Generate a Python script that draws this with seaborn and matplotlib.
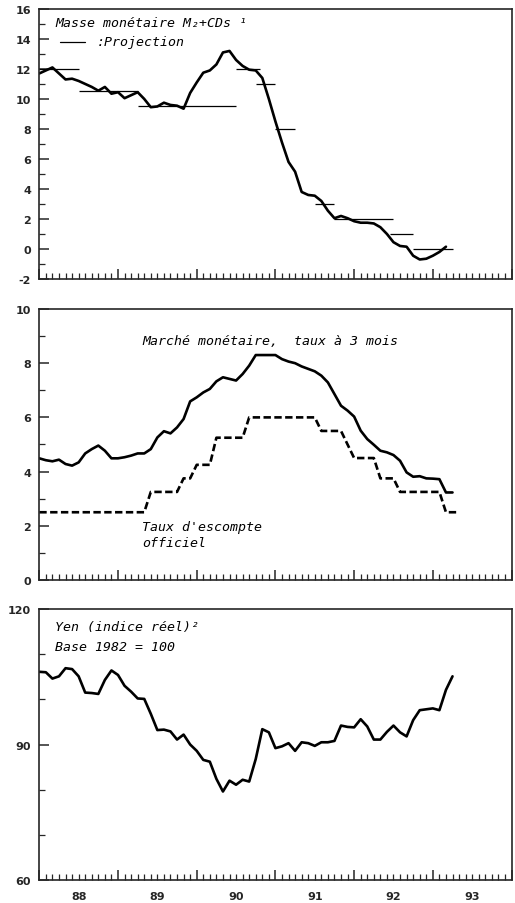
import numpy as np
import pandas as pd
import seaborn as sns
import matplotlib
matplotlib.use("Agg")
import matplotlib.pyplot as plt
from matplotlib.ticker import MultipleLocator

# Masse monétaire M2+CDs, mensuel depuis janvier 1988
m2_cds = [11.7, 11.9, 12.1, 11.7, 11.3, 11.35, 11.2, 11.0, 10.8, 10.55,
          10.8, 10.35, 10.45, 10.05, 10.25, 10.45, 10.0, 9.45, 9.5, 9.75,
          9.6, 9.55, 9.35, 10.4, 11.1, 11.75, 11.9, 12.3, 13.1, 13.2,
          12.6, 12.2, 11.95, 11.9, 11.4, 10.0, 8.5, 7.1, 5.8, 5.15,
          3.8, 3.6, 3.55, 3.2, 2.55, 2.05, 2.2, 2.05, 1.85, 1.75,
          1.75, 1.7, 1.45, 1.0, 0.45, 0.2, 0.15, -0.45, -0.7, -0.65,
          -0.45, -0.2, 0.15]

# Projections (segments horizontaux)
proj_start = [1988.0, 1988.5, 1989.25, 1990.5, 1990.75, 1991.0, 1991.5, 1991.75, 1992.45, 1992.75]
proj_end = [1988.5, 1989.25, 1990.5, 1990.8, 1991.0, 1991.25, 1991.75, 1992.5, 1992.75, 1993.25]
proj_value = [12, 10.5, 9.5, 12, 11, 8, 3, 2, 1, 0]

# Marché monétaire, taux à 3 mois
call_rate = [4.49, 4.42, 4.38, 4.44, 4.28, 4.22, 4.34, 4.67, 4.83, 4.96,
             4.77, 4.49, 4.49, 4.53, 4.59, 4.67, 4.67, 4.83, 5.26, 5.49,
             5.41, 5.63, 5.94, 6.59, 6.74, 6.92, 7.05, 7.33, 7.48, 7.42,
             7.36, 7.60, 7.91, 8.30, 8.30, 8.30, 8.30, 8.15, 8.06, 8.00,
             7.88, 7.79, 7.70, 7.54, 7.29, 6.86, 6.43, 6.25, 6.03, 5.51,
             5.20, 4.99, 4.77, 4.71, 4.61, 4.40, 3.97, 3.81, 3.83, 3.75,
             3.74, 3.72, 3.23, 3.23]

# Taux d'escompte officiel
discount = ([2.5] * 17 + [3.25] * 5 + [3.75] * 2 + [4.25] * 3 + [5.25] * 5
            + [6.0] * 11 + [5.5] * 4 + [5.0] + [4.5] * 4 + [3.75] * 3
            + [3.25] * 7 + [2.5] * 3)

# Yen (indice réel), base 1982 = 100
yen = [106.1, 106.0, 104.6, 105.1, 106.9, 106.7, 105.1, 101.5, 101.4, 101.2,
       104.3, 106.4, 105.4, 103.0, 101.7, 100.2, 100.1, 96.8, 93.2, 93.3,
       92.9, 91.1, 92.2, 90.0, 88.6, 86.6, 86.2, 82.4, 79.6, 82.0,
       81.1, 82.2, 81.8, 86.8, 93.4, 92.7, 89.2, 89.6, 90.3, 88.6,
       90.5, 90.3, 89.7, 90.5, 90.5, 90.8, 94.2, 93.9, 93.8, 95.6,
       94.0, 91.1, 91.1, 92.8, 94.2, 92.7, 91.8, 95.4, 97.6, 97.8,
       98.0, 97.6, 102.1, 105.1]

years = [1988, 1989, 1990, 1991, 1992, 1993, 1994]
year_labels = ["88", "89", "90", "91", "92", "93"]


def monthly(values):
    return pd.DataFrame({"date": 1988 + np.arange(len(values)) / 12.0, "value": values})


sns.set_style("ticks")
plt.rcParams["font.family"] = ["DejaVu Sans"]
plt.rcParams["axes.unicode_minus"] = False

fig = plt.figure(figsize=(5.15, 9.04), dpi=100)
left, width = 0.0763, 0.917
ax1 = fig.add_axes([left, 0.6903, width, 0.2987])
ax2 = fig.add_axes([left, 0.3573, width, 0.2998])
ax3 = fig.add_axes([left, 0.0254, width, 0.2998])

txt = dict(family=["DejaVu Sans Mono", "DejaVu Sans"], style="italic", fontsize=9.5, color="black")
lw = 1.9

# 1. Masse monétaire
sns.lineplot(data=monthly(m2_cds), x="date", y="value", ax=ax1, color="black", linewidth=lw)
ax1.hlines(proj_value, proj_start, proj_end, color="black", linewidth=0.9)
ax1.set_ylim(-2, 16)
ax1.yaxis.set_major_locator(MultipleLocator(2))
ax1.yaxis.set_minor_locator(MultipleLocator(1))
ax1.text(0.033, 0.948, "Masse monétaire M₂+CDs ¹", transform=ax1.transAxes, va="center", **txt)
ax1.plot([0.044, 0.097], [0.879, 0.879], transform=ax1.transAxes, color="black", linewidth=0.9)
ax1.text(0.122, 0.879, ":Projection", transform=ax1.transAxes, va="center", **txt)

# 2. Taux d'intérêt
sns.lineplot(data=monthly(call_rate), x="date", y="value", ax=ax2, color="black", linewidth=lw)
sns.lineplot(data=monthly(discount), x="date", y="value", ax=ax2, color="black",
             linewidth=lw, linestyle=(0, (2.8, 1.3)))
ax2.set_ylim(0, 10)
ax2.yaxis.set_major_locator(MultipleLocator(2))
ax2.yaxis.set_minor_locator(MultipleLocator(1))
ax2.text(0.219, 0.882, "Marché monétaire,  taux à 3 mois", transform=ax2.transAxes, va="center", **txt)
ax2.text(0.217, 0.196, "Taux d'escompte", transform=ax2.transAxes, va="center", **txt)
ax2.text(0.217, 0.140, "officiel", transform=ax2.transAxes, va="center", **txt)

# 3. Yen
sns.lineplot(data=monthly(yen), x="date", y="value", ax=ax3, color="black", linewidth=lw)
ax3.set_ylim(60, 120)
ax3.set_yticks([60, 90, 120])
ax3.yaxis.set_minor_locator(MultipleLocator(10))
ax3.text(0.033, 0.934, "Yen (indice réel)²", transform=ax3.transAxes, va="center", **txt)
ax3.text(0.033, 0.863, "Base 1982 = 100", transform=ax3.transAxes, va="center", **txt)

for ax in (ax1, ax2, ax3):
    ax.set_xlim(1988, 1994)
    ax.set_xticks(years)
    ax.set_xticklabels([])
    ax.xaxis.set_minor_locator(MultipleLocator(1 / 12))
    ax.set_xlabel("")
    ax.set_ylabel("")
    ax.tick_params(axis="both", which="major", direction="in", length=7, width=1.1,
                   labelsize=8, pad=6)
    ax.tick_params(axis="both", which="minor", direction="in", length=4, width=0.9)
    for lab in ax.get_yticklabels():
        lab.set_fontweight("bold")
    for s in ax.spines.values():
        s.set_linewidth(1.2)
        s.set_visible(True)

sec = ax3.secondary_xaxis("bottom")
sec.set_xticks([y + 0.5 for y in years[:-1]])
sec.set_xticklabels(year_labels, fontweight="bold", fontsize=8)
sec.tick_params(length=0, pad=8)
sec.spines["bottom"].set_visible(False)

fig.savefig("out.png", dpi=100)
